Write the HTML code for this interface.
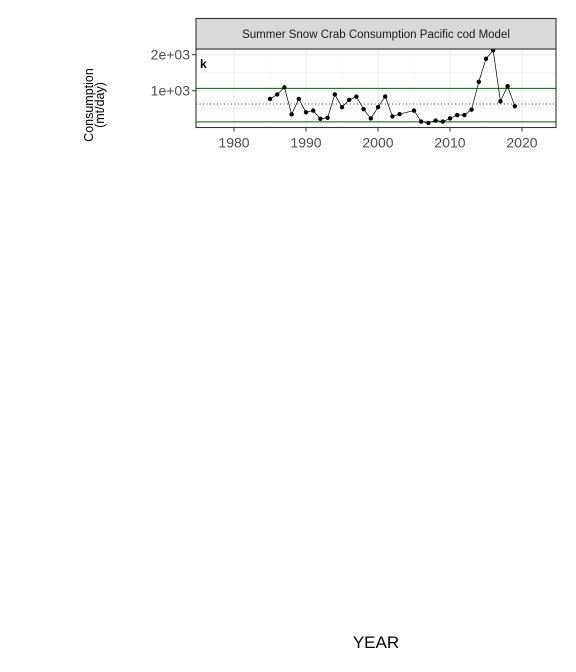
<!DOCTYPE html>
<html><head><meta charset="utf-8"><style>
html,body{margin:0;padding:0;background:#fff;}
svg{display:block;font-family:"Liberation Sans",sans-serif;}
</style></head><body>
<svg width="576" height="672" viewBox="0 0 576 672">
<g id="plot"></g>
</svg>
<script>
const years=[1985,1986,1987,1988,1989,1990,1991,1992,1993,1994,1995,1996,1997,1998,1999,2000,2001,2002,2003,2005,2006,2007,2008,2009,2010,2011,2012,2013,2014,2015,2016,2017,2018,2019];
const values=[771,895,1095,343,771,400,448,219,248,895,543,743,838,486,229,543,838,286,352,448,143,105,171,143,229,324,324,476,1248,1886,2124,705,1124,571];
const refLines=[1066,629,134];
const xTicks=[1980,1990,2000,2010,2020];
const yTicks=[1000,2000];
const yTickLabels=["1e+03","2e+03"];
const L=196,R=556,T=49,B=127.5;
const X=v=>234+(v-1980)*7.2;
const Y=v=>126.7-v*0.036;
const NS="http://www.w3.org/2000/svg";
const g=document.getElementById('plot');
function mk(t,a,p){const e=document.createElementNS(NS,t);for(const k in a)e.setAttribute(k,a[k]);(p||g).appendChild(e);return e;}
let e;
e=mk('rect',{x:L,y:T,width:R-L,height:B-T,fill:'#fff'});


// minor grid
for(let yr=1975;yr<=2025;yr+=5){const x=X(yr);if(x>L&&x<R){e=mk('line',{x1:x,x2:x,y1:T,y2:B,stroke:'#ebebeb','stroke-width':yr%10?0.5:1});

}}
for(let v=500;v<=2500;v+=500){const y=Y(v);if(y>T&&y<B){e=mk('line',{x1:L,x2:R,y1:y,y2:y,stroke:'#ebebeb','stroke-width':v%1000?0.5:1});

}}
// ref lines
refLines.forEach((v,i)=>{e=mk('line',{x1:L,x2:R,y1:Y(v),y2:Y(v),stroke:'#006400','stroke-width':1,'stroke-dasharray':i==1?'1,2.5':'none'});

});
// series line
e=mk('polyline',{points:years.map((y,i)=>X(y)+','+Y(values[i])).join(' '),fill:'none',stroke:'#000','stroke-width':0.7});


years.forEach((y,i)=>{e=mk('circle',{cx:X(y),cy:Y(values[i]),r:2.2,fill:'#000'});

});
// border
e=mk('rect',{x:L,y:T,width:R-L,height:B-T,fill:'none',stroke:'#333','stroke-width':1.1});


// strip
e=mk('rect',{x:L,y:18.5,width:R-L,height:T-18.5,fill:'#d9d9d9',stroke:'#333','stroke-width':1.1});


e=mk('text',{x:(L+R)/2,y:38,'text-anchor':'middle','font-size':11.5,fill:'#1a1a1a'});e.textContent='Summer Snow Crab Consumption Pacific cod Model';


e=mk('text',{x:200,y:68,'font-size':12,'font-weight':'bold'});e.textContent='k';


// ticks
xTicks.forEach(t=>{mk('line',{x1:X(t),x2:X(t),y1:B,y2:B+4,stroke:'#333'});
e=mk('text',{x:X(t),y:B+20,'text-anchor':'middle','font-size':14,fill:'#4d4d4d'});e.textContent=t;

});
yTicks.forEach((t,i)=>{mk('line',{x1:L-4,x2:L,y1:Y(t),y2:Y(t),stroke:'#333'});
e=mk('text',{x:L-6,y:Y(t)+5,'text-anchor':'end','font-size':14,fill:'#4d4d4d'});e.textContent=yTickLabels[i];

});
e=mk('text',{transform:'translate(93,105) rotate(-90)','text-anchor':'middle','font-size':12.5});


const t1=mk('tspan',{x:0,dy:0},e);t1.textContent='Consumption';
const t2=mk('tspan',{x:0,dy:11},e);t2.textContent='(mt/day)';
e=mk('text',{x:376,y:648,'text-anchor':'middle','font-size':17});e.textContent='YEAR';


</script>
</body></html>
